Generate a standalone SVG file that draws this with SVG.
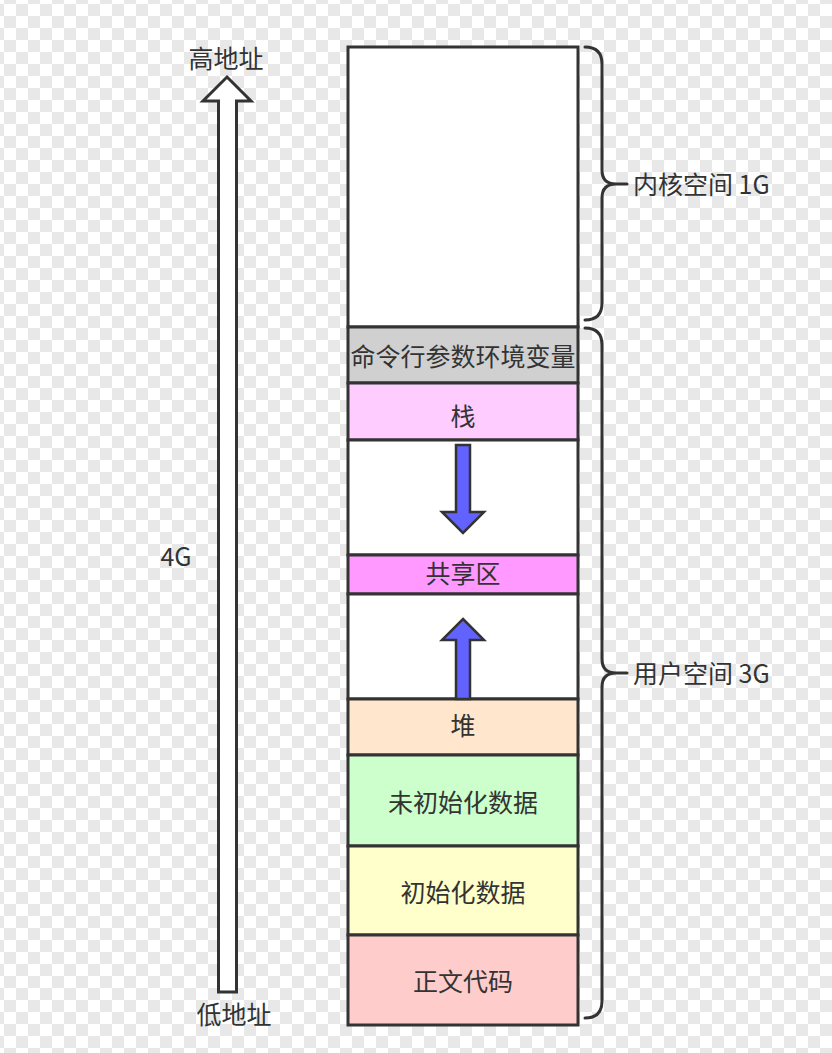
<svg xmlns="http://www.w3.org/2000/svg" width="832" height="1053" viewBox="0 0 832 1053">
  <defs>
    <pattern id="checker" x="4" y="4" width="24" height="24" patternUnits="userSpaceOnUse">
      <rect width="24" height="24" fill="#ffffff"/>
      <rect x="12" y="0" width="12" height="12" fill="#e8e8e8"/>
      <rect x="0" y="12" width="12" height="12" fill="#e8e8e8"/>
    </pattern>
  </defs>
  <style>
    .blk { stroke: #333333; stroke-width: 3; }
    .lbl { font-family: "Noto Sans CJK SC", "Noto Sans", sans-serif; font-size: 25px; fill: #333333; dominant-baseline: central; }
    .mid { text-anchor: middle; }
    .brace { fill: none; stroke: #333333; stroke-width: 3; stroke-linecap: round; stroke-linejoin: round; }
    .blue { fill: #6262ff; stroke: #333333; stroke-width: 2.5; stroke-linejoin: miter; }
  </style>
  <rect width="832" height="1053" fill="url(#checker)"/>

  <g id="kernel">
    <rect class="blk" x="348" y="47" width="230" height="280" fill="#ffffff"/>
  </g>
  <g id="cmdline">
    <rect class="blk" x="348" y="327" width="230" height="56" fill="#d0d0d0"/>
    <text class="lbl mid" x="463" y="355">命令行参数环境变量</text>
  </g>
  <g id="stack">
    <rect class="blk" x="348" y="383" width="230" height="57" fill="#ffccff"/>
    <text class="lbl mid" x="463" y="415">栈</text>
  </g>
  <g id="gap1">
    <rect class="blk" x="348" y="440" width="230" height="115" fill="#ffffff"/>
  </g>
  <g id="shared">
    <rect class="blk" x="348" y="555" width="230" height="39" fill="#ff99ff"/>
    <text class="lbl mid" x="463" y="572">共享区</text>
  </g>
  <g id="gap2">
    <rect class="blk" x="348" y="594" width="230" height="105" fill="#ffffff"/>
  </g>
  <g id="heap">
    <rect class="blk" x="348" y="699" width="230" height="56" fill="#ffe6cc"/>
    <text class="lbl mid" x="463" y="724">堆</text>
  </g>
  <g id="bss">
    <rect class="blk" x="348" y="755" width="230" height="91" fill="#ccffcc"/>
    <text class="lbl mid" x="463" y="801">未初始化数据</text>
  </g>
  <g id="data">
    <rect class="blk" x="348" y="846" width="230" height="89" fill="#ffffcc"/>
    <text class="lbl mid" x="463" y="891">初始化数据</text>
  </g>
  <g id="text-seg">
    <rect class="blk" x="348" y="935" width="230" height="90" fill="#ffcccc"/>
    <text class="lbl mid" x="463" y="980">正文代码</text>
  </g>

  <g id="connectors">
    <path id="addr-arrow" d="M227,77 L251,101 L236.5,101 L236.5,992 L218.5,992 L218.5,101 L203,101 Z" fill="#ffffff" stroke="#333333" stroke-width="3" stroke-linejoin="miter"/>
    <path id="stack-grow" class="blue" d="M456,445 L470,445 L470,512 L484,512 L463,533 L442,512 L456,512 Z"/>
    <path id="heap-grow" class="blue" d="M463,619 L484,640 L470,640 L470,699 L456,699 L456,640 L442,640 Z"/>
    <path id="kernel-brace" class="brace" d="M585,47 Q602,47 602,64 L602,170 Q602,184 616,184 L627,184 M616,184 Q602,184 602,198 L602,303 Q602,320 585,320"/>
    <path id="user-brace" class="brace" d="M585,328 Q602,328 602,345 L602,659 Q602,673 616,673 L627,673 M616,673 Q602,673 602,687 L602,1001 Q602,1018 585,1018"/>
  </g>

  <g id="labels">
    <text class="lbl mid" x="226" y="57">高地址</text>
    <text class="lbl mid" x="234" y="1013">低地址</text>
    <text class="lbl mid" x="176" y="555">4G</text>
    <text class="lbl" x="633" y="183">内核空间 1G</text>
    <text class="lbl" x="633" y="672">用户空间 3G</text>
  </g>
</svg>
